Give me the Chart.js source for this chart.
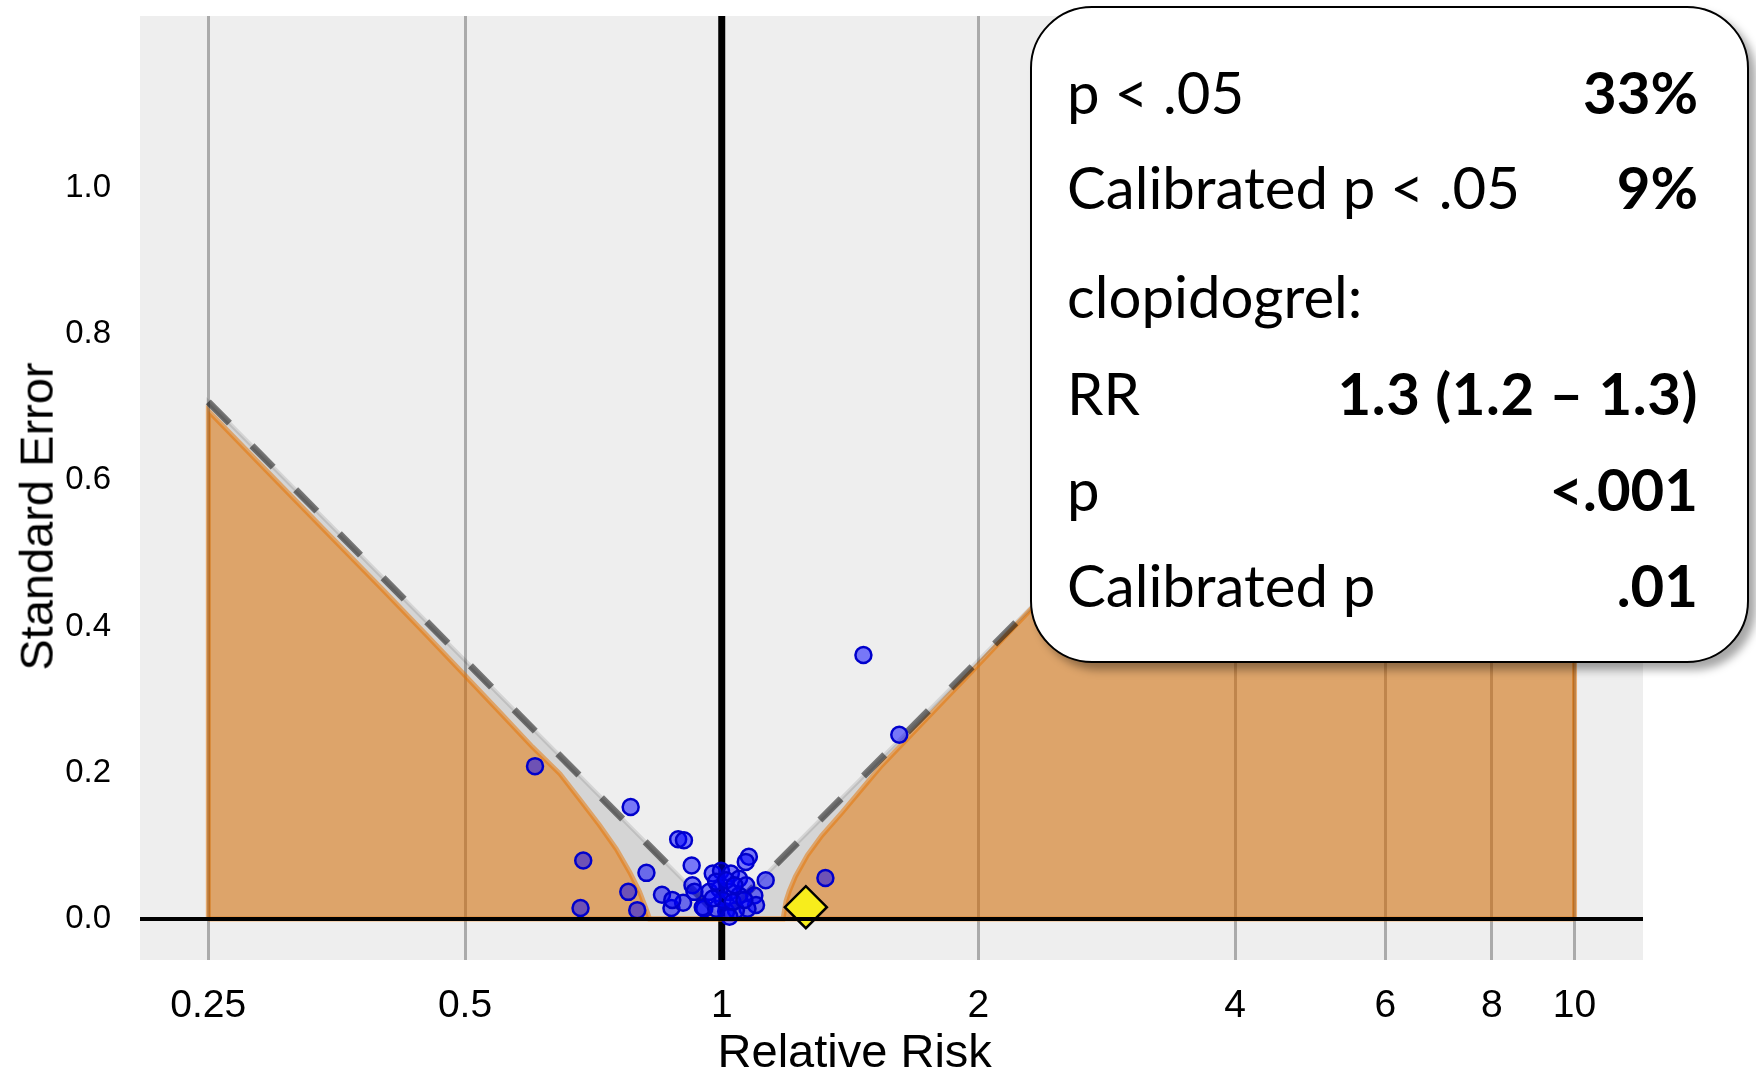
<!DOCTYPE html>
<html>
<head>
<meta charset="utf-8">
<script src="https://cdn.jsdelivr.net/npm/chart.js@4.4.1/dist/chart.umd.min.js"></script>
<style>
html,body{margin:0;padding:0;background:#fff;}
#wrap{position:relative;width:1756px;height:1074px;overflow:hidden;background:#fff;}
#c{position:absolute;left:0;top:0;}
.axt{position:absolute;font-family:"Liberation Sans",Arial,sans-serif;font-size:47px;color:#000;white-space:nowrap;line-height:1;}
#box{position:absolute;left:1030px;top:6px;width:715px;height:653px;border:2px solid #000;border-radius:62px;background:#fff;box-shadow:7px 7px 9px rgba(0,0,0,0.35);}
.row{position:absolute;left:35px;right:49px;font-family:Lato,"Open Sans",sans-serif;line-height:1;display:flex;justify-content:space-between;color:#000;white-space:nowrap;}
.row .v{font-weight:700;}
</style>
</head>
<body>
<div id="wrap">
  <canvas id="c" width="1756" height="1074"></canvas>
  <div class="axt" id="xt">Relative Risk</div>
  <div class="axt" id="yt">Standard Error</div>
  <div id="box"></div>
</div>
<script>
// ---------------- data ----------------
const xTicks = [0.25, 0.5, 1, 2, 4, 6, 8, 10];
const xTickLabels = ["0.25", "0.5", "1", "2", "4", "6", "8", "10"];
const yTicks = [0, 0.2, 0.4, 0.6, 0.8, 1.0];
const yTickLabels = ["0.0", "0.2", "0.4", "0.6", "0.8", "1.0"];

// negative-control estimates (relative risk, standard error)
const estRR = [1.466, 1.615, 0.604, 0.782, 0.889, 0.903, 0.688, 0.683, 0.816, 0.777,
               0.796, 0.851, 0.873, 0.901, 0.922, 0.954, 1.076, 1.067, 1.126, 1.323,
               0.924, 0.929, 0.950, 0.976, 0.998, 1.025, 1.048, 1.068, 1.092, 1.097,
               1.072, 1.039, 1.012, 0.985, 0.967, 0.994, 1.021, 1.048, 1.003, 1.030,
               0.976, 1.063, 0.985, 1.012, 1.035, 1.021, 0.875];
const estSE = [0.361, 0.252, 0.209, 0.153, 0.109, 0.1075, 0.080, 0.015, 0.063, 0.037,
               0.012, 0.033, 0.015, 0.022, 0.073, 0.014, 0.085, 0.078, 0.053, 0.056,
               0.046, 0.037, 0.016, 0.062, 0.066, 0.062, 0.055, 0.046, 0.032, 0.019,
               0.014, 0.012, 0.010, 0.014, 0.037, 0.041, 0.037, 0.032, 0.026, 0.023,
               0.028, 0.026, 0.051, 0.053, 0.046, 0.003, 0.026];

// focal estimate (clopidogrel)
const focalRR = [1.255];
const focalSE = [0.016];

// reference line at RR = 1
const refRR = 1;

// uncalibrated p = .05 boundary (dashed)
const nullRR = [0.25, 1, 10];
const nullSE = [0.7073, 0, 1.1748];

// calibrated p = .05 boundary (orange region), left and right parts
const calLeftRR = [0.25, 0.25, 0.30, 0.35, 0.40, 0.45, 0.50, 0.55, 0.60, 0.646, 0.681, 0.719, 0.752, 0.780, 0.801, 0.815, 0.823];
const calLeftSE = [0, 0.695, 0.600, 0.520, 0.451, 0.389, 0.333, 0.282, 0.235, 0.1985, 0.164, 0.128, 0.096, 0.064, 0.037, 0.014, 0];
const calRightRR = [1.180, 1.190, 1.200, 1.220, 1.260, 1.310, 1.385, 1.460, 1.540, 1.630, 2.0, 2.5, 3.0, 4.0, 5.0, 6.0, 7.0, 8.0, 9.0, 10.0, 10.0];
const calRightSE = [0, 0.025, 0.038, 0.058, 0.087, 0.114, 0.146, 0.178, 0.210, 0.240, 0.348, 0.467, 0.561, 0.710, 0.824, 0.918, 0.997, 1.065, 1.125, 1.179, 0];

// summary box
const statLabels = ["p < .05", "Calibrated p < .05", "clopidogrel:", "RR", "p", "Calibrated p"];
const statValues = ["33%", "9%", "", "1.3 (1.2 \u2013 1.3)", "<.001", ".01"];

// ---------------- build ----------------
const pts = (xs, ys) => xs.map((x, i) => ({x: x, y: ys[i]}));
const estPts = pts(estRR, estSE);
const focalPts = pts(focalRR, focalSE);
const nullPts = pts(nullRR, nullSE);
const grayPoly = [{x: nullRR[0], y: 0}].concat(nullPts, [{x: nullRR[nullRR.length - 1], y: 0}]);
const orangePoly = pts(calLeftRR, calLeftSE).concat(pts(calRightRR, calRightSE));
const orangeBase = [{x: calLeftRR[0], y: 0}, {x: calRightRR[calRightRR.length - 1], y: 0}];

const panelPlugin = {
  id: 'panel',
  beforeDraw(chart) {
    const {ctx, chartArea: a} = chart;
    ctx.save();
    ctx.fillStyle = '#eeeeee';
    ctx.fillRect(a.left, a.top, a.right - a.left, a.bottom - a.top);
    ctx.restore();
  },
  beforeDatasetsDraw(chart) {
    const {ctx, chartArea: a} = chart;
    const x = chart.scales.x.getPixelForValue(refRR);
    ctx.save();
    ctx.strokeStyle = '#000';
    ctx.lineWidth = 7;
    ctx.beginPath();
    ctx.moveTo(x, a.top);
    ctx.lineTo(x, a.bottom);
    ctx.stroke();
    ctx.restore();
  },
  afterDatasetsDraw(chart) {
    const {ctx, chartArea: a} = chart;
    const y = chart.scales.y.getPixelForValue(0);
    ctx.save();
    ctx.strokeStyle = '#000';
    ctx.lineWidth = 4;
    ctx.beginPath();
    ctx.moveTo(a.left, y);
    ctx.lineTo(a.right, y);
    ctx.stroke();
    ctx.restore();
  }
};

new Chart(document.getElementById('c'), {
  type: 'scatter',
  data: {
    datasets: [
      {label: 'clopidogrel', type: 'scatter', data: focalPts, pointStyle: 'rectRot', pointRadius: 21,
       backgroundColor: '#f7ed1c', borderColor: '#000', borderWidth: 2.5, order: 0},
      {label: 'estimates', type: 'scatter', data: estPts, pointRadius: 8,
       backgroundColor: 'rgba(0,0,255,0.5)', borderColor: 'rgb(0,0,204)', borderWidth: 2.5, order: 1},
      {label: 'p05', type: 'line', data: nullPts, borderColor: 'rgba(0,0,0,0.5)', borderWidth: 7,
       borderDash: [30, 32], borderCapStyle: 'butt', pointRadius: 0, fill: false, tension: 0, order: 2},
      {label: 'p05area', type: 'line', data: grayPoly, borderColor: 'rgba(0,0,0,0.1)', borderWidth: 4,
       backgroundColor: 'rgba(0,0,0,0.1)', fill: 'origin', pointRadius: 0, tension: 0, order: 3},
      {label: 'calBase', type: 'line', data: orangeBase, borderColor: 'rgba(255,128,0,0.5)', borderWidth: 5,
       pointRadius: 0, fill: false, tension: 0, order: 4},
      {label: 'calibrated', type: 'line', data: orangePoly, borderColor: 'rgba(255,128,0,0.5)', borderWidth: 5,
       backgroundColor: 'rgba(255,128,0,0.5)', fill: 'origin', pointRadius: 0, tension: 0, order: 5}
    ]
  },
  options: {
    responsive: false,
    devicePixelRatio: 1,
    animation: false,
    layout: {autoPadding: false, padding: {left: 0, top: 16, right: 113, bottom: 0}},
    plugins: {legend: {display: false}, tooltip: {enabled: false}},
    scales: {
      x: {
        type: 'logarithmic', min: 0.2079, max: 12.03,
        afterBuildTicks: s => { s.ticks = xTicks.map(v => ({value: v})); },
        afterFit: s => { s.height = 114; s.paddingLeft = 0; s.paddingRight = 0; },
        ticks: {callback: (v, i) => xTickLabels[i], color: '#000', padding: 23, maxRotation: 0, autoSkip: false,
                font: {family: '"Liberation Sans", Arial, sans-serif', size: 39}},
        grid: {color: '#aaaaaa', lineWidth: 3, drawTicks: false},
        border: {display: false}
      },
      y: {
        type: 'linear', min: -0.0562, max: 1.2351,
        afterBuildTicks: s => { s.ticks = yTicks.map(v => ({value: v})); },
        afterFit: s => { s.width = 140; s.paddingTop = 0; s.paddingBottom = 0; },
        ticks: {callback: (v, i) => yTickLabels[i], color: '#000', padding: 29,
                font: {family: '"Liberation Sans", Arial, sans-serif', size: 33}},
        grid: {display: false, drawTicks: false},
        border: {display: false}
      }
    }
  },
  plugins: [panelPlugin]
});

// axis titles
const xt = document.getElementById('xt');
xt.style.left = (854.6 - xt.offsetWidth / 2) + 'px';
xt.style.top = (1050 - xt.offsetHeight / 2) + 'px';
const yt = document.getElementById('yt');
yt.style.left = (35.5 - yt.offsetWidth / 2) + 'px';
yt.style.top = (516 - yt.offsetHeight / 2) + 'px';
yt.style.transform = 'rotate(-90deg)';

// summary box
const mc = document.createElement('canvas').getContext('2d');
mc.font = '100px Lato';
const F = 100 * 453 / mc.measureText(statLabels[1]).width;
const baselines = [106.5, 202, 310.5, 407.5, 503.5, 599.5];
const box = document.getElementById('box');
statLabels.forEach((lab, i) => {
  const r = document.createElement('div');
  r.className = 'row';
  r.style.fontSize = F + 'px';
  r.style.top = (baselines[i] - 0.887 * F) + 'px';
  const a = document.createElement('span'); a.textContent = lab;
  const b = document.createElement('span'); b.className = 'v'; b.textContent = statValues[i];
  if (i === 3) b.style.letterSpacing = '0.6px';
  r.appendChild(a); r.appendChild(b);
  box.appendChild(r);
});
</script>
</body>
</html>
